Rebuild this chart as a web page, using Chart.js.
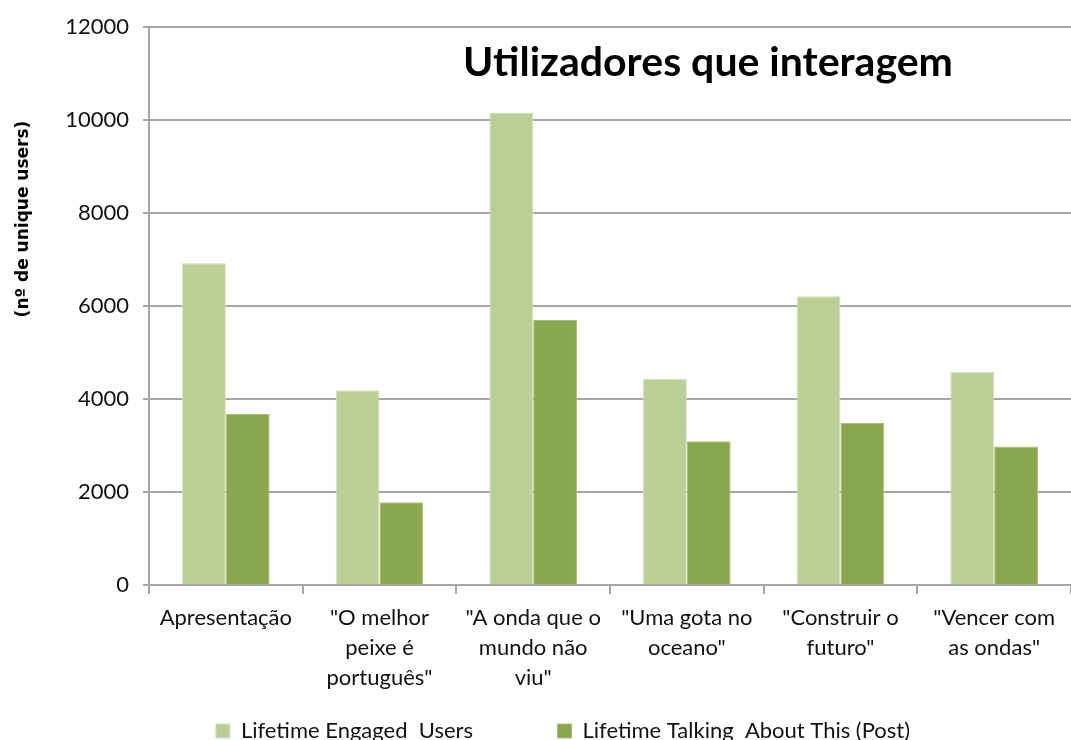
<!DOCTYPE html>
<html>
<head>
<meta charset="utf-8">
<script src="https://cdn.jsdelivr.net/npm/chart.js@4"></script>
<style>
  html, body { margin: 0; padding: 0; background: #fff; }
  #wrap { width: 1071px; height: 740px; position: relative; }
</style>
</head>
<body>
<div id="wrap"><canvas id="chart"></canvas></div>
<script>
// ===== Data =====
const categories = [
  ["Apresentação"],
  ["\"O melhor", "peixe é", "português\""],
  ["\"A onda que o", "mundo não", "viu\""],
  ["\"Uma gota no", "oceano\""],
  ["\"Construir o", "futuro\""],
  ["\"Vencer com", "as ondas\""]
];
const engagedUsers = [6920, 4190, 10160, 4430, 6210, 4590];
const talkingAbout = [3680, 1780, 5700, 3090, 3490, 2980];
const seriesNames = ["Lifetime Engaged  Users", "Lifetime Talking  About This (Post)"];
const yTicks = [0, 2000, 4000, 6000, 8000, 10000, 12000];
const chartTitle = "Utilizadores que interagem";
const yTitle = "(nº de unique users)";

// ===== Styling =====
const GRID = "#a6a6a6";
const TEXT = "#111";
const LIGHT = "#bacf96";
const DARK = "#8aa64e";
const FONT = "Lato, 'Open Sans', sans-serif";
const LEGEND_GAP = "               "; // widens the gap between legend items

// title + axis title drawn inside the plot, like the original
const overlayText = {
  id: "overlayText",
  afterDraw(chart) {
    const { ctx } = chart;
    ctx.save();
    ctx.fillStyle = "#000";
    ctx.font = "bold 41px " + FONT;
    ctx.textAlign = "center";
    ctx.textBaseline = "middle";
    ctx.fillText(chartTitle, 708, 63);

    ctx.translate(24, 219);
    ctx.rotate(-Math.PI / 2);
    ctx.font = "bold 17px 'DejaVu Sans', sans-serif";
    ctx.fillText(yTitle, 0, 0);
    ctx.restore();
  }
};

new Chart(document.getElementById("chart"), {
  type: "bar",
  data: {
    labels: categories,
    datasets: [
      { label: seriesNames[0], data: engagedUsers, backgroundColor: LIGHT, borderColor: "#d2e0bb", borderWidth: 1 },
      { label: seriesNames[1], data: talkingAbout, backgroundColor: DARK, borderColor: "#a6bd79", borderWidth: 1 }
    ]
  },
  options: {
    responsive: true,
    maintainAspectRatio: false,
    animation: false,
    layout: { padding: { top: 11, left: 51, right: -4, bottom: -12 } },
    datasets: { bar: { categoryPercentage: 0.57, barPercentage: 1.0 } },
    plugins: {
      title: { display: false },
      tooltip: { enabled: false },
      legend: {
        position: "bottom",
        labels: {
          boxWidth: 14,
          boxHeight: 14,
          padding: 0,
          color: TEXT,
          font: { family: FONT, size: 22 },
          generateLabels: (chart) => {
            const items = Chart.defaults.plugins.legend.labels.generateLabels(chart);
            items[0].text += LEGEND_GAP;
            return items;
          }
        }
      }
    },
    scales: {
      x: {
        offset: true,
        afterFit: (scale) => { scale.height = 135; },
        border: { color: GRID, width: 2 },
        grid: { offset: true, drawOnChartArea: false, drawTicks: true, tickLength: 9, color: GRID, lineWidth: 2 },
        ticks: {
          color: TEXT,
          font: { family: FONT, size: 22, lineHeight: 1.3636 },
          padding: 9,
          maxRotation: 0,
          autoSkip: false
        }
      },
      y: {
        min: 0,
        max: 12000,
        afterBuildTicks: (scale) => { scale.ticks = yTicks.map(v => ({ value: v })); },
        afterFit: (scale) => { scale.width = 98; },
        border: { color: GRID, width: 2 },
        grid: { color: GRID, lineWidth: 2, tickLength: 6 },
        ticks: {
          color: TEXT,
          font: { family: FONT, size: 22 },
          padding: 14,
          callback: (v) => String(v)
        }
      }
    }
  },
  plugins: [overlayText]
});
</script>
</body>
</html>
